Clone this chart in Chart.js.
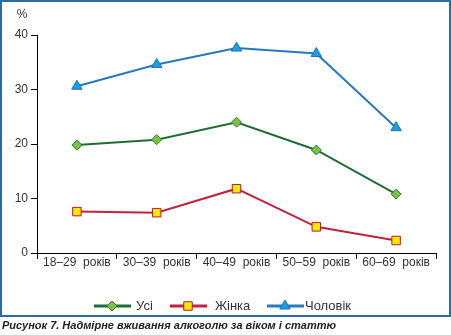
<!DOCTYPE html>
<html>
<head>
<meta charset="utf-8">
<script src="https://cdn.jsdelivr.net/npm/chart.js@4/dist/chart.umd.min.js"></script>
<style>
  html, body { margin: 0; padding: 0; background: #fff; }
  #wrap { position: relative; width: 451px; height: 335px; overflow: hidden; }
  #frame {
    position: absolute; left: 0; top: 0; width: 451px; height: 317px;
    box-sizing: border-box; border: 2px solid #2d6ba5;
  }
  #chart { position: absolute; left: 0; top: 0; }
  #caption {
    position: absolute; left: 2px; top: 319px; white-space: nowrap;
    font: italic bold 11px "Liberation Sans", Arial, sans-serif; color: #222;
  }
</style>
</head>
<body>
<div id="wrap">
  <div id="frame"></div>
  <canvas id="chart" width="451" height="335"></canvas>
  <div id="caption">Рисунок 7. Надмірне вживання алкоголю за віком і статтю</div>
</div>
<script>
const ageGroups = ["18–29  років", "30–39  років", "40–49  років", "50–59  років", "60–69  років"];
const allValues = [19.8, 20.8, 24.0, 18.9, 10.8];
const womenValues = [7.6, 7.4, 11.8, 4.8, 2.3];
const menValues = [30.6, 34.6, 37.6, 36.6, 23.0];
const yTicks = [0, 10, 20, 30, 40];

const FONT = "Liberation Sans, Arial, sans-serif";

// legend: short line with the marker in its middle, then the label
const lineLegend = {
  id: "lineLegend",
  afterDraw(chart) {
    const { ctx } = chart;
    const y = 306;
    const starts = [94, 170, 267];
    const textGap = [42, 45, 38];
    ctx.save();
    ctx.font = "13px " + FONT;
    ctx.textBaseline = "middle";
    chart.data.datasets.forEach((ds, i) => {
      const x = starts[i];
      ctx.strokeStyle = ds.borderColor;
      ctx.lineWidth = 3;
      ctx.beginPath();
      ctx.moveTo(x, y);
      ctx.lineTo(x + 37, y);
      ctx.stroke();
      ctx.fillStyle = ds.pointBackgroundColor;
      ctx.strokeStyle = ds.pointBorderColor;
      ctx.lineWidth = 1;
      Chart.helpers.drawPoint(ctx, {
        pointStyle: ds.pointStyle,
        radius: ds.pointRadius,
        borderWidth: 1,
        rotation: 0,
      }, x + 18, y);
      ctx.fillStyle = "#333";
      ctx.fillText(ds.label, x + textGap[i], y);
    });
    ctx.restore();
  },
};

const percentLabel = {
  id: "percentLabel",
  afterDraw(chart) {
    const { ctx } = chart;
    ctx.save();
    ctx.font = "12px " + FONT;
    ctx.fillStyle = "#333";
    ctx.textAlign = "center";
    ctx.textBaseline = "middle";
    ctx.fillText("%", 22, 15);
    ctx.restore();
  },
};

new Chart(document.getElementById("chart"), {
  type: "line",
  data: {
    labels: ageGroups,
    datasets: [
      {
        label: "Усі",
        data: allValues,
        borderColor: "#1f6d36",
        borderWidth: 2,
        pointStyle: "rectRot",
        pointRadius: 5,
        pointBackgroundColor: "#7cc143",
        pointBorderColor: "#2b7a2e",
        pointBorderWidth: 1,
      },
      {
        label: "Жінка",
        data: womenValues,
        borderColor: "#c4213e",
        borderWidth: 2,
        pointStyle: "rect",
        pointRadius: 6,
        pointBackgroundColor: "#ffe600",
        pointBorderColor: "#b01c2c",
        pointBorderWidth: 1,
      },
      {
        label: "Чоловік",
        data: menValues,
        borderColor: "#2878bf",
        borderWidth: 2,
        pointStyle: "triangle",
        pointRadius: 6,
        pointBackgroundColor: "#1b9de2",
        pointBorderColor: "#1f72b8",
        pointBorderWidth: 1,
      },
    ],
  },
  options: {
    responsive: false,
    animation: false,
    layout: { padding: { left: 0, right: 15, top: 35, bottom: 62 } },
    plugins: {
      legend: { display: false },
      tooltip: { enabled: false },
    },
    scales: {
      x: {
        offset: true,
        afterFit(scale) { scale.height = 20; },
        grid: {
          offset: true,
          drawOnChartArea: false,
          drawTicks: true,
          tickLength: 6,
          color: "#000",
        },
        border: { display: true, color: "#000", width: 1 },
        ticks: { color: "#333", font: { family: FONT, size: 12 }, padding: -4, maxRotation: 0, autoSkip: false },
      },
      y: {
        min: 0,
        max: 40,
        afterFit(scale) { scale.width = 37; },
        afterBuildTicks(scale) { scale.ticks = yTicks.map((v) => ({ value: v })); },
        grid: {
          drawOnChartArea: false,
          drawTicks: true,
          tickLength: 6,
          color: "#000",
        },
        border: { display: true, color: "#000", width: 1 },
        ticks: { color: "#333", font: { family: FONT, size: 12 }, padding: 3 },
      },
    },
  },
  plugins: [lineLegend, percentLabel],
});
</script>
</body>
</html>
